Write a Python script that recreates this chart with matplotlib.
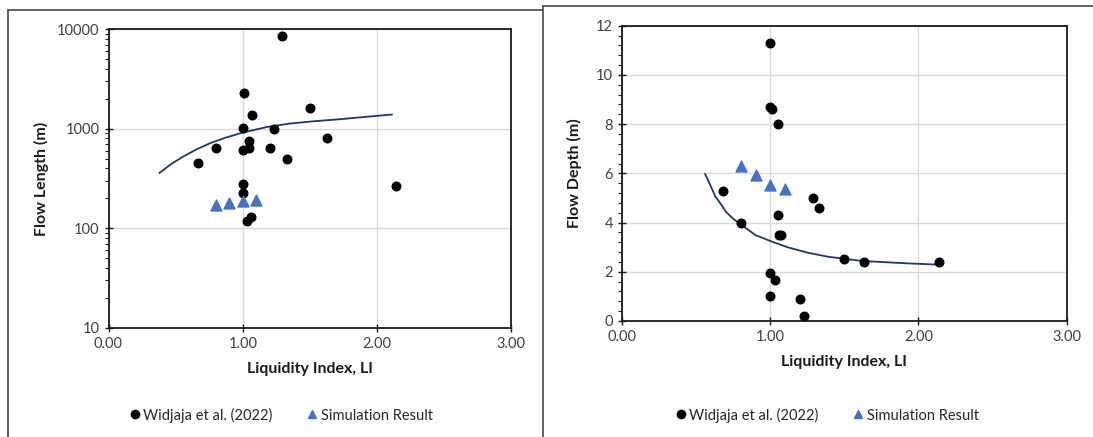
import matplotlib
matplotlib.use("Agg")
import matplotlib.pyplot as plt
from matplotlib.lines import Line2D
from matplotlib.ticker import FixedLocator, NullFormatter, FuncFormatter, MultipleLocator

plt.rcParams['font.family'] = ['Lato', 'DejaVu Sans']

# left chart: flow length vs liquidity index
li_len = [1.29, 1.01, 1.50, 1.07, 1.00, 1.23, 1.63, 1.05, 0.80, 1.05,
          1.20, 1.00, 0.67, 1.33, 1.00, 2.14, 1.00, 1.06, 1.03]
flow_len = [8600, 2300, 1630, 1375, 1010, 1000, 800, 754, 646, 646,
            646, 616, 449, 500, 276, 268, 224, 130, 119]
sim_li = [0.80, 0.90, 1.00, 1.10]
sim_len = [173, 180, 188, 194]
trend_len_x = [0.38, 0.47, 0.56, 0.66, 0.76, 0.88, 1.00, 1.18, 1.35, 1.53, 1.72, 1.92, 2.11]
trend_len_y = [360, 445, 529, 625, 719, 820, 916, 1042, 1128, 1190, 1246, 1320, 1389]

# right chart: flow depth vs liquidity index
li_dep = [1.00, 1.00, 1.01, 1.05, 0.68, 1.29, 1.33, 1.05, 0.80, 1.06,
          1.07, 1.50, 1.63, 2.14, 1.00, 1.03, 1.00, 1.20, 1.23]
flow_dep = [11.3, 8.7, 8.6, 8.0, 5.3, 5.0, 4.6, 4.3, 4.0, 3.5,
            3.5, 2.5, 2.4, 2.4, 1.95, 1.65, 1.0, 0.9, 0.2]
sim_dep = [6.29, 5.93, 5.53, 5.38]
trend_dep_x = [0.56, 0.60, 0.63, 0.67, 0.70, 0.75, 0.80, 0.90, 1.00, 1.12, 1.25, 1.39, 1.62, 1.93, 2.14]
trend_dep_y = [5.97, 5.45, 5.05, 4.72, 4.44, 4.15, 3.93, 3.49, 3.25, 2.99, 2.78, 2.61, 2.44, 2.34, 2.29]

W, H = 1093, 437
fig = plt.figure(figsize=(W / 100, H / 100), dpi=100)

black = '#000000'
blue = '#4472C4'
navy = '#1F3864'
tickc = '#404040'


def px(x0, y0, x1, y1):
    return [x0 / W, 1 - y1 / H, (x1 - x0) / W, (y1 - y0) / H]


def style(ax):
    for s in ax.spines.values():
        s.set_color('#1a1a1a')
        s.set_linewidth(1.3)
    ax.grid(True, which='major', color='#d9d9d9', linewidth=1.0)
    ax.set_axisbelow(True)
    ax.tick_params(which='major', direction='inout', length=6, width=1.0,
                   colors='#1a1a1a', labelcolor=tickc, labelsize=10.5,
                   top=False, right=False)
    ax.tick_params(which='minor', direction='out', length=3, width=0.8,
                   colors='#1a1a1a', top=False, right=False)
    ax.tick_params(axis='x', which='minor', bottom=False)
    ax.set_xlim(0, 3)
    ax.xaxis.set_major_locator(MultipleLocator(1))
    ax.xaxis.set_major_formatter(FuncFormatter(lambda v, p: f'{v:.2f}'))
    ax.set_xlabel('Liquidity Index, LI', fontsize=11.5, fontweight='bold',
                  color='#1a1a1a', labelpad=8)


# left panel
ax1 = fig.add_axes(px(108.5, 29.3, 511.3, 327.7))
ax1.set_yscale('log')
ax1.set_ylim(10, 10000)
ax1.plot(trend_len_x, trend_len_y, color=navy, lw=1.3, zorder=2)
ax1.scatter(li_len, flow_len, s=38, color=black, zorder=3)
ax1.scatter(sim_li, sim_len, s=62, marker='^', color=blue, zorder=4)
style(ax1)
ax1.yaxis.set_major_locator(FixedLocator([10, 100, 1000, 10000]))
ax1.yaxis.set_major_formatter(FuncFormatter(lambda v, p: f'{int(v)}'))
ax1.yaxis.set_minor_locator(FixedLocator([m * d for d in (10, 100, 1000) for m in range(2, 10)]))
ax1.yaxis.set_minor_formatter(NullFormatter())
ax1.set_ylabel('Flow Length (m)', fontsize=11.5, fontweight='bold',
               color='#1a1a1a', labelpad=6)

# right panel
ax2 = fig.add_axes(px(622.2, 25.7, 1066.6, 321.0))
ax2.set_ylim(0, 12)
ax2.plot(trend_dep_x, trend_dep_y, color=navy, lw=1.3, zorder=2)
ax2.scatter(li_dep, flow_dep, s=38, color=black, zorder=3)
ax2.scatter(sim_li, sim_dep, s=62, marker='^', color=blue, zorder=4)
style(ax2)
ax2.yaxis.set_major_locator(MultipleLocator(2))
ax2.yaxis.set_minor_locator(MultipleLocator(0.4))
ax2.set_ylabel('Flow Depth (m)', fontsize=11.5, fontweight='bold',
               color='#1a1a1a', labelpad=10)

handles = [Line2D([], [], marker='o', ls='', color=black, markersize=6),
           Line2D([], [], marker='^', ls='', color=blue, markersize=6)]
labels = ['Widjaja et al. (2022)', 'Simulation Result']
for cx in (280, 826):
    fig.legend(handles, labels, loc='center', bbox_to_anchor=(cx / W, 1 - 415 / H),
               ncol=2, frameon=False, fontsize=10.5, handletextpad=0.1,
               columnspacing=2.2, handlelength=1.0, labelcolor='#262626')

# panel frames like the pasted screenshots
fc = '#555555'
fig.add_artist(Line2D([7.6 / W, 7.6 / W], [0, 1 - 10 / H], color=fc, lw=1.3))
fig.add_artist(Line2D([7.6 / W, 543 / W], [1 - 10 / H, 1 - 10 / H], color=fc, lw=1.3))
fig.add_artist(Line2D([543 / W, 543 / W], [0, 1 - 6.3 / H], color=fc, lw=1.3))
fig.add_artist(Line2D([543 / W, 1], [1 - 6.3 / H, 1 - 6.3 / H], color=fc, lw=1.3))

fig.savefig('out.png', dpi=100)
